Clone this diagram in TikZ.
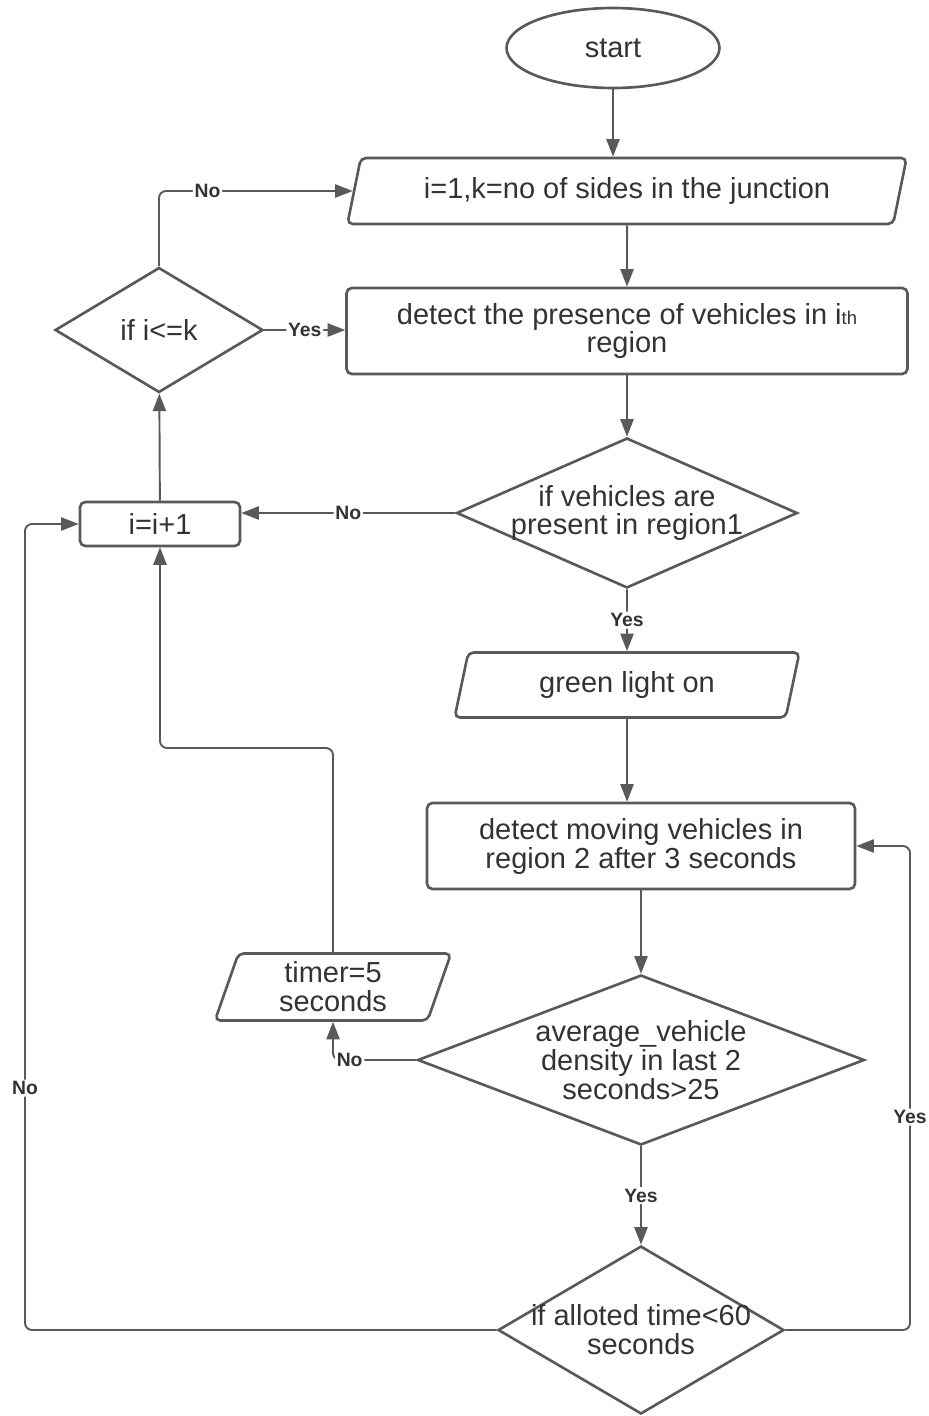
\documentclass[tikz,border=0pt]{standalone}
\usepackage{fontspec}
\setmainfont{Liberation Sans}
\usetikzlibrary{shapes.geometric,arrows.meta,positioning}
\definecolor{linegray}{HTML}{595959}
\definecolor{textgray}{HTML}{333333}

\begin{document}
\begin{tikzpicture}[x=0.02cm,y=-0.02cm,>={Triangle[length=10pt,width=7.5pt]},
  font=\fontsize{16.5}{16.5}\selectfont,text=textgray,
  block/.style={draw=linegray,line width=1.5pt,align=center,inner sep=2pt},
  term/.style={block,ellipse},
  proc/.style={block,rectangle,rounded corners=3pt},
  io/.style={block,trapezium,trapezium stretches=true,rounded corners=3pt},
  dec/.style={block,diamond,inner sep=0pt},
  flow/.style={draw=linegray,line width=1.1pt,rounded corners=4pt,->},
  lbl/.style={fill=white,inner sep=1pt,font=\bfseries\fontsize{11}{12}\selectfont}]
\useasboundingbox (0,0) rectangle (929,1416);
% main column
\node[term,minimum width=4.26cm,minimum height=1.6cm] (start) at (613,48) {start};
\node[io,trapezium left angle=73,trapezium right angle=107,minimum width=11.2cm,minimum height=1.32cm] (init) at (627,191) {i=1,k=no of sides in the junction};
\node[proc,minimum width=11.22cm,minimum height=1.72cm] (detect) at (627,331) {detect the presence of vehicles in i{\fontsize{10.5}{10.5}\selectfont th}\\region};
\node[dec,minimum width=6.82cm,minimum height=3cm] (present) at (627,513) {};
\node[align=center] at (present) {if vehicles are\\present in region1};
\node[io,trapezium left angle=77,trapezium right angle=103,minimum width=6.9cm,minimum height=1.3cm] (green) at (627,685) {green light on};
\node[proc,minimum width=8.56cm,minimum height=1.72cm] (moving) at (641,846) {detect moving vehicles in\\region 2 after 3 seconds};
\node[dec,minimum width=8.94cm,minimum height=3.4cm] (avg) at (641,1060) {};
\node[align=center] at (avg) {average\_vehicle\\density in last 2\\seconds>25};
\node[dec,minimum width=5.72cm,minimum height=3.36cm] (alloted) at (641,1330) {};
\node[align=center] at (alloted) {if alloted time<60\\seconds};
% left column
\node[dec,minimum width=4.16cm,minimum height=2.5cm] (cond) at (159,330) {if i<=k};
\node[proc,minimum width=3.2cm,minimum height=0.88cm] (inc) at (160,524) {i=i+1};
\node[io,trapezium left angle=76,trapezium right angle=104,minimum width=4.74cm,minimum height=1.34cm] (timer) at (333,987) {timer=5\\seconds};
% turning points
\coordinate (back) at (333,748);
\coordinate (loopL) at (25,1330);
\coordinate (loopR) at (910,1330);
% connectors
\draw[flow] (start.south) -- (start.south |- init.north);
\draw[flow] (init) -- (detect);
\draw[flow] (detect) -- (present);
\draw[flow] (present.west) -- node[lbl]{No} (present.west -| inc.east);
\draw[flow] (inc) -- (cond);
\draw[flow] (cond.north) |- node[lbl,pos=0.625]{No} (init.west);
\draw[flow] (cond.east) -- node[lbl]{Yes} (cond.east -| detect.west);
\draw[flow] (present.south) -- node[lbl]{Yes} (green.north);
\draw[flow] (green.south) -- (green.south |- moving.north);
\draw[flow] (moving) -- (avg);
\draw[flow] (avg.west) -| node[lbl,pos=0.4]{No} (timer.south);
\draw[flow] (timer.north) -- (back) -| (inc.south);
\draw[flow] (avg.south) -- node[lbl]{Yes} (alloted.north);
\draw[flow] (alloted.west) -- (loopL) |- node[lbl,pos=0.15]{No} (inc.west);
\draw[flow] (alloted.east) -- (loopR) |- node[lbl,pos=0.22]{Yes} (moving.east);
\end{tikzpicture}
\end{document}
